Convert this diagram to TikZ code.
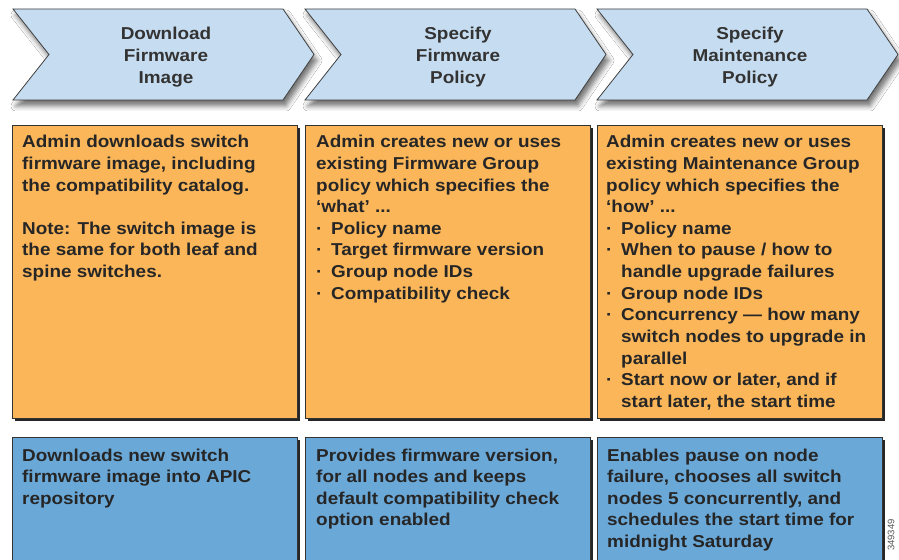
\documentclass[tikz,border=0pt]{standalone}
\usepackage{fontspec}
\newfontfamily\boxfont[FakeStretch=1.1]{Liberation Sans}
\newfontfamily\plainsans{Liberation Sans}
\usetikzlibrary{shadows,shadows.blur}
\definecolor{chevfill}{HTML}{C6DCF0}
\definecolor{orangefill}{HTML}{FBB659}
\definecolor{bluefill}{HTML}{6AA8D8}
\definecolor{txtcol}{HTML}{262626}
\definecolor{headcol}{HTML}{333333}
\newcommand\bulitem{\makebox[15bp][l]{·}}
\newcommand\contind{\hspace*{15bp}}
\tikzset{
  chev/.style={fill=chevfill, draw=black!75, line width=0.8bp, line join=miter,
    blur shadow={shadow xshift=3bp, shadow yshift=-6bp, shadow blur radius=5bp, shadow opacity=55}},
  panel/.style={draw=black!80, line width=0.8bp, minimum width=285bp, anchor=north west, inner sep=0pt,
    general shadow={fill=black!85, shadow xshift=2.2bp, shadow yshift=-2.2bp}},
  orangepanel/.style={panel, fill=orangefill, minimum height=293bp},
  bluepanel/.style={panel, fill=bluefill, minimum height=140bp},
  txtblock/.style={anchor=base west, inner sep=0pt, text=txtcol,
    font=\boxfont\bfseries\fontsize{17.2bp}{21.6bp}\selectfont},
  headtxt/.style={anchor=base, inner sep=0pt, text=headcol,
    font=\boxfont\bfseries\fontsize{17.2bp}{22bp}\selectfont},
}
\begin{document}
\begin{tikzpicture}[x=1bp,y=-1bp]
\useasboundingbox (0,0) rectangle (899,560);
\clip (0,0) rectangle (899,560);
\fill[white] (0,0) rectangle (899,560);

% chevrons
\draw[chev] (13,9) -- ++(270,0) -- ++(31,45.5) -- ++(-31,45.5) -- ++(-270,0) -- ++(36,-45.5) -- cycle;
\draw[chev] (305,9) -- ++(270,0) -- ++(31,45.5) -- ++(-31,45.5) -- ++(-270,0) -- ++(36,-45.5) -- cycle;
\draw[chev] (597,9) -- ++(270,0) -- ++(31,45.5) -- ++(-31,45.5) -- ++(-270,0) -- ++(36,-45.5) -- cycle;

\node[headtxt] (h1) at (166,39.3) {\parbox[t]{200bp}{\centering Download\\Firmware\\Image}};
\node[headtxt] (h2) at (458,39.3) {\parbox[t]{200bp}{\centering Specify\\Firmware\\Policy}};
\node[headtxt] (h3) at (750,39.3) {\parbox[t]{200bp}{\centering Specify\\Maintenance\\Policy}};

% orange panels
\node[orangepanel] (o1) at (12,125) {};
\node[orangepanel] (o2) at (305,125) {};
\node[orangepanel] (o3) at (597,125) {};

% blue panels
\node[bluepanel] (b1) at (12,437) {};
\node[bluepanel] (b2) at (305,437) {};
\node[bluepanel] (b3) at (597,437) {};

% orange texts
\node[txtblock] (ot1) at (22,148) {\parbox[t]{272bp}{\raggedright
Admin downloads switch\\
firmware image, including\\
the compatibility catalog.\\[21.6bp]
Note: The switch image is\\
the same for both leaf and\\
spine switches.}};

\node[txtblock] (ot2) at (316,148) {\parbox[t]{272bp}{\raggedright
Admin creates new or uses\\
existing Firmware Group\\
policy which specifies the\\
‘what’ ...\\
\bulitem Policy name\\
\bulitem Target firmware version\\
\bulitem Group node IDs\\
\bulitem Compatibility check}};

\node[txtblock] (ot3) at (606,148) {\parbox[t]{272bp}{\raggedright
Admin creates new or uses\\
existing Maintenance Group\\
policy which specifies the\\
‘how’ ...\\
\bulitem Policy name\\
\bulitem When to pause / how to\\
\contind handle upgrade failures\\
\bulitem Group node IDs\\
\bulitem Concurrency — how many\\
\contind switch nodes to upgrade in\\
\contind parallel\\
\bulitem Start now or later, and if\\
\contind start later, the start time}};

% blue texts
\node[txtblock] (bt1) at (22,461) {\parbox[t]{272bp}{\raggedright
Downloads new switch\\
firmware image into APIC\\
repository}};

\node[txtblock] (bt2) at (316,461) {\parbox[t]{272bp}{\raggedright
Provides firmware version,\\
for all nodes and keeps\\
default compatibility check\\
option enabled}};

\node[txtblock] (bt3) at (607,461) {\parbox[t]{272bp}{\raggedright
Enables pause on node\\
failure, chooses all switch\\
nodes 5 concurrently, and\\
schedules the start time for\\
midnight Saturday}};

\node[rotate=90, inner sep=0pt, text=black!65, font=\plainsans\fontsize{9.5bp}{10bp}\selectfont] (fig) at (891,535) {349349};
\end{tikzpicture}
\end{document}
